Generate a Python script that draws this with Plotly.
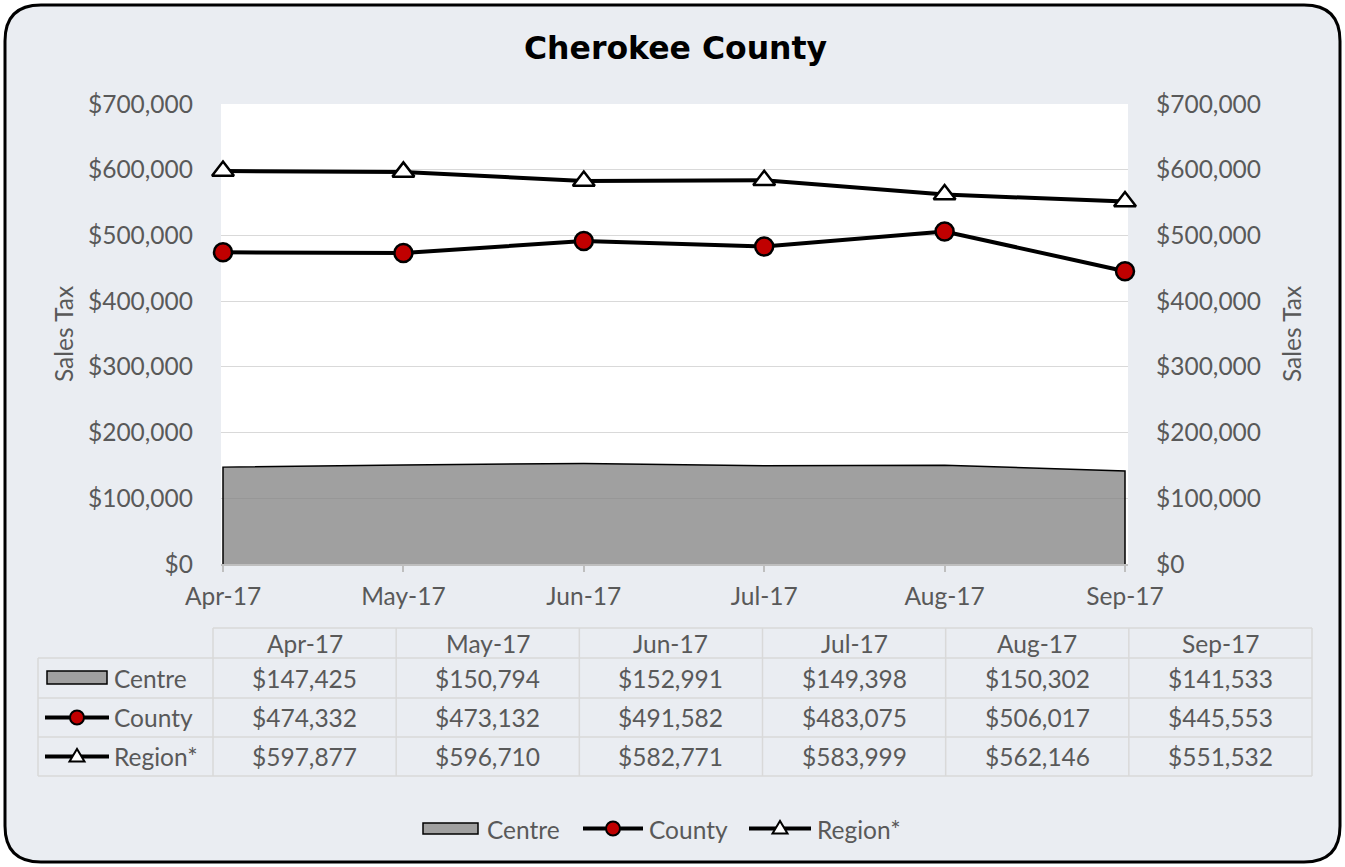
import plotly.graph_objects as go

# ---- data -------------------------------------------------------------
months = ["Apr-17", "May-17", "Jun-17", "Jul-17", "Aug-17", "Sep-17"]
centre = [147425, 150794, 152991, 149398, 150302, 141533]
county = [474332, 473132, 491582, 483075, 506017, 445553]
region = [597877, 596710, 582771, 583999, 562146, 551532]
y_ticks = [0, 100000, 200000, 300000, 400000, 500000, 600000, 700000]

series_names = ["Centre", "County", "Region*"]
series_values = [centre, county, region]

# ---- page geometry (pixels) -------------------------------------------
W, H = 1345, 867
L, R, T, B = 221, 217, 104, 303
PW, PH = W - L - R, H - T - B

FONT = "Lato"
FS = 24.5
GREY_TXT = "#595959"
BG = "#EAEDF2"
GRID = "#D9D9D9"
RED = "#C00000"


def px(x):
    return (x - L) / PW


def py(y):
    return (H - B - y) / PH


xs = list(range(len(months)))
x_unit = (1125 - 223) / (len(months) - 1)
x_range = [-(223 - L) / x_unit, (len(months) - 1) + (L + PW - 1125) / x_unit]

fig = go.Figure()

# Centre area: fill, then the outline (sides and top only)
fig.add_trace(go.Scatter(
    x=xs, y=centre, mode="lines", fill="tozeroy",
    fillcolor="rgba(128,128,128,0.75)", line=dict(width=0),
    hoverinfo="skip", showlegend=False, cliponaxis=False))
fig.add_trace(go.Scatter(
    x=[xs[0]] + xs + [xs[-1]], y=[0] + centre + [0], mode="lines",
    line=dict(color="black", width=1.5), showlegend=False,
    cliponaxis=False, hoverinfo="skip"))

fig.add_trace(go.Scatter(
    x=xs, y=county, mode="lines+markers", name="County",
    line=dict(color="black", width=4),
    marker=dict(symbol="circle", size=18, color=RED,
                line=dict(color="black", width=2.5)),
    showlegend=False, cliponaxis=False))
fig.add_trace(go.Scatter(
    x=xs, y=region, mode="lines+markers", name="Region*",
    line=dict(color="black", width=4),
    marker=dict(symbol="triangle-up", size=19, color="white",
                line=dict(color="black", width=2.5)),
    showlegend=False, cliponaxis=False, yaxis="y2"))

shapes = []
annotations = []

# rounded card background and white plot area
r = 36
x0, y0, x1, y1 = 5, 5, 1340, 862
path = (f"M{px(x0 + r)},{py(y0)} L{px(x1 - r)},{py(y0)} "
        f"Q{px(x1)},{py(y0)} {px(x1)},{py(y0 + r)} "
        f"L{px(x1)},{py(y1 - r)} Q{px(x1)},{py(y1)} {px(x1 - r)},{py(y1)} "
        f"L{px(x0 + r)},{py(y1)} Q{px(x0)},{py(y1)} {px(x0)},{py(y1 - r)} "
        f"L{px(x0)},{py(y0 + r)} Q{px(x0)},{py(y0)} {px(x0 + r)},{py(y0)} Z")
shapes.append(dict(type="path", path=path, xref="paper", yref="paper",
                   fillcolor=BG, line=dict(width=0), layer="below"))
shapes.append(dict(type="rect", xref="paper", yref="paper", x0=0, x1=1,
                   y0=0, y1=1, fillcolor="white", line=dict(width=0),
                   layer="below"))
shapes.append(dict(type="path", path=path, xref="paper", yref="paper",
                   line=dict(color="black", width=3), layer="above"))

# ---- data table --------------------------------------------------------
tbl_left, tbl_label_right, tbl_right = 38, 213, 1312
row_edges = [628, 658, 698, 737, 776]
col_w = (tbl_right - tbl_label_right) / len(months)
col_edges = [tbl_label_right + i * col_w for i in range(len(months) + 1)]
tline = dict(color=GRID, width=1.5)

for i, ye in enumerate(row_edges):
    xa = tbl_label_right if i == 0 else tbl_left
    shapes.append(dict(type="line", xref="paper", yref="paper",
                       x0=px(xa), x1=px(tbl_right), y0=py(ye), y1=py(ye),
                       line=tline))
shapes.append(dict(type="line", xref="paper", yref="paper",
                   x0=px(tbl_left), x1=px(tbl_left),
                   y0=py(row_edges[1]), y1=py(row_edges[-1]), line=tline))
for xe in col_edges:
    shapes.append(dict(type="line", xref="paper", yref="paper",
                       x0=px(xe), x1=px(xe),
                       y0=py(row_edges[0]), y1=py(row_edges[-1]), line=tline))

cell_font = dict(family=FONT, size=FS, color=GREY_TXT)
for j, m in enumerate(months):
    cx = (col_edges[j] + col_edges[j + 1]) / 2
    annotations.append(dict(
        x=px(cx), y=py((row_edges[0] + row_edges[1]) / 2), xref="paper",
        yref="paper", text=m, showarrow=False, font=cell_font,
        xanchor="center", yanchor="middle"))
    for i, vals in enumerate(series_values):
        cy = (row_edges[i + 1] + row_edges[i + 2]) / 2
        annotations.append(dict(
            x=px(cx), y=py(cy), xref="paper", yref="paper",
            text=f"${vals[j]:,}", showarrow=False, font=cell_font,
            xanchor="center", yanchor="middle"))

for i, name in enumerate(series_names):
    cy = (row_edges[i + 1] + row_edges[i + 2]) / 2
    annotations.append(dict(
        x=px(112), y=py(cy), xref="paper", yref="paper", text=name,
        showarrow=False, font=cell_font, xanchor="left", yanchor="middle"))


# ---- legend keys (table rows and bottom legend) -------------------------
def swatch(a, b, c, d):
    shapes.append(dict(type="rect", xref="paper", yref="paper",
                       x0=px(a), x1=px(b), y0=py(c), y1=py(d),
                       fillcolor="#A0A0A0",
                       line=dict(color="black", width=1.5), layer="above"))


def line_key(xa, xb, xm, yk, symbol):
    shapes.append(dict(type="line", xref="paper", yref="paper",
                       x0=px(xa), x1=px(xb), y0=py(yk), y1=py(yk),
                       line=dict(color="black", width=4), layer="above"))
    anchor = dict(xref="paper", yref="paper", xsizemode="pixel",
                  ysizemode="pixel", xanchor=px(xm), yanchor=py(yk),
                  line=dict(color="black", width=2), layer="above")
    if symbol == "circle":
        shapes.append(dict(type="circle", x0=-7, x1=7, y0=-7, y1=7,
                           fillcolor=RED, **anchor))
    else:
        shapes.append(dict(type="path", path="M-7.5,-5 L7.5,-5 L0,7.5 Z",
                           fillcolor="white", **anchor))


swatch(47, 107, 671, 684)
line_key(45, 109, 77, 717.5, "circle")
line_key(45, 109, 77, 756.5, "triangle")
swatch(423, 478, 823, 834)
line_key(583, 643, 613, 828.5, "circle")
line_key(749, 811, 780, 828.5, "triangle")

# bottom legend labels
for name, xl in [("Centre", 485), ("County", 647), ("Region*", 815)]:
    annotations.append(dict(
        x=px(xl), y=py(829), xref="paper", yref="paper", text=name,
        showarrow=False, font=cell_font, xanchor="left", yanchor="middle"))

# title and axis titles
annotations.append(dict(
    x=px(675), y=py(48), xref="paper", yref="paper",
    text="<b>Cherokee County</b>", showarrow=False,
    font=dict(family="DejaVu Sans", size=31.5, color="black"),
    xanchor="center", yanchor="middle"))
for xt in (63, 1291):
    annotations.append(dict(
        x=px(xt), y=py(334), xref="paper", yref="paper", text="Sales Tax",
        showarrow=False, textangle=-90,
        font=dict(family=FONT, size=FS, color=GREY_TXT),
        xanchor="center", yanchor="middle"))

tick_font = dict(family=FONT, size=FS, color=GREY_TXT)
y_text = [f"${v:,}" for v in y_ticks]

fig.update_layout(
    width=W, height=H,
    margin=dict(l=L, r=R, t=T, b=B, pad=0),
    paper_bgcolor="white",
    plot_bgcolor="rgba(0,0,0,0)",
    showlegend=False,
    shapes=shapes,
    annotations=annotations,
    xaxis=dict(range=x_range, tickvals=xs, ticktext=months,
               showgrid=False, zeroline=False, showline=True,
               linecolor="#BFBFBF", linewidth=1.5, ticks="outside",
               ticklen=6, tickcolor="#BFBFBF", tickwidth=1.5,
               tickfont=tick_font, layer="above traces",
               ticklabelstandoff=4),
    yaxis=dict(range=[0, 700000], tickvals=y_ticks, ticktext=y_text,
               showgrid=True, gridcolor=GRID, gridwidth=1.2,
               zeroline=False, showline=False, ticks="",
               tickfont=tick_font, ticklabelstandoff=27),
    yaxis2=dict(range=[0, 700000], tickvals=y_ticks, ticktext=y_text,
                overlaying="y", side="right", showgrid=False,
                zeroline=False, showline=False, ticks="",
                tickfont=tick_font, ticklabelstandoff=27),
)

fig.write_html("out.html")
